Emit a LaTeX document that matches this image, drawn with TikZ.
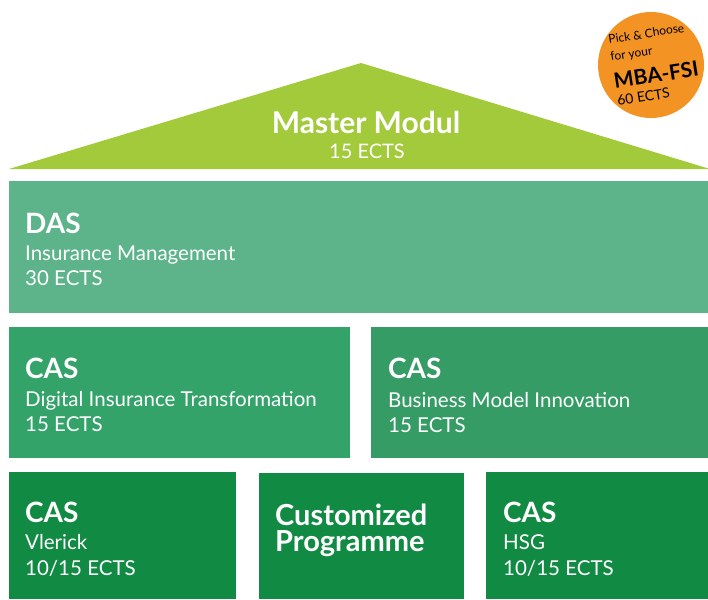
\documentclass[tikz,border=0pt]{standalone}
\usepackage{fontspec}
\setmainfont{Lato}
\definecolor{roofgreen}{HTML}{A2CA3B}
\definecolor{dasgreen}{HTML}{5DB48A}
\definecolor{midleft}{HTML}{33A36A}
\definecolor{midright}{HTML}{359C65}
\definecolor{botgreen}{HTML}{118A43}
\definecolor{badge}{HTML}{F39324}
\begin{document}
\begin{tikzpicture}[x=1pt,y=-1pt,
  txt/.style={text=white,inner sep=0pt,anchor=base west},
  head/.style={txt,font=\fontsize{28}{30}\selectfont\bfseries},
  sub/.style={txt,font=\fontsize{20.5}{23}\selectfont},
  big/.style={txt,font=\fontsize{29}{31}\selectfont\bfseries},
  badgetxt/.style={inner sep=0pt,anchor=base west,rotate=9,text=black}]
\useasboundingbox (0,0) rectangle (708,599);
% roof
\fill[roofgreen] (9,169) -- (361,63) -- (710,169) -- cycle;
\node[txt,anchor=base,font=\fontsize{30}{32}\selectfont\bfseries] (mm) at (366,133) {Master Modul};
\node[txt,anchor=base,font=\fontsize{20}{22}\selectfont] (mmects) at (367,158) {15 ECTS};
% DAS
\fill[dasgreen] (9,181) rectangle (708,313);
\node[head] (das) at (25,233) {DAS};
\node[sub] (dasa) at (25,260) {Insurance Management};
\node[sub] (dasb) at (25,285) {30 ECTS};
% middle row
\fill[midleft] (9,327) rectangle (350,458);
\node[head] (c1) at (25,378) {CAS};
\node[sub] (c1a) at (25,406) {Digital Insurance Transformation};
\node[sub] (c1b) at (25,431) {15 ECTS};
\fill[midright] (371,327) rectangle (708,458);
\node[head] (c2) at (388,378) {CAS};
\node[sub] (c2a) at (388,407) {Business Model Innovation};
\node[sub] (c2b) at (388,432) {15 ECTS};
% bottom row
\fill[botgreen] (9,472) rectangle (236,599);
\node[head] (c3) at (25,522) {CAS};
\node[sub] (c3a) at (25,549) {Vlerick};
\node[sub] (c3b) at (25,575) {10/15 ECTS};
\fill[botgreen] (259,473) rectangle (464,599);
\node[big] (cp1) at (275,525) {Customized};
\node[big] (cp2) at (275,551) {Programme};
\fill[botgreen] (486,472) rectangle (708,599);
\node[head] (c4) at (503,522) {CAS};
\node[sub] (c4a) at (503,549) {HSG};
\node[sub] (c4b) at (503,575) {10/15 ECTS};
% badge
\fill[badge] (651,65) circle (53);
\node[badgetxt,font=\fontsize{12}{14}\selectfont] (b1) at (609,44) {Pick \& Choose};
\node[badgetxt,font=\fontsize{12}{14}\selectfont] (b2) at (611,61) {for your};
\node[badgetxt,font=\fontsize{21}{23}\selectfont\bfseries] (b3) at (615,89) {MBA-FSI};
\node[badgetxt,font=\fontsize{14}{16}\selectfont] (b4) at (618,106) {60 ECTS};
\end{tikzpicture}
\end{document}
